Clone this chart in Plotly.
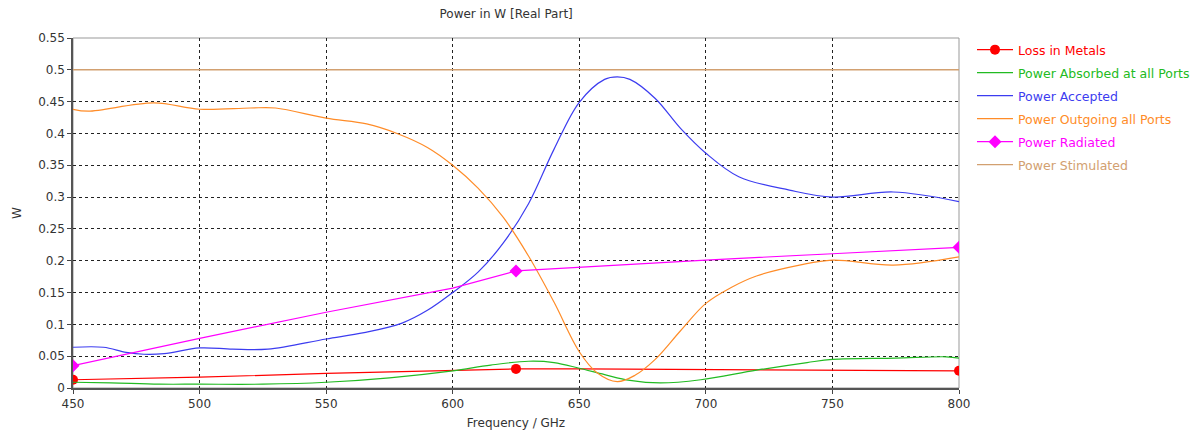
import plotly.graph_objects as go

freq_loss = [450, 500, 550, 600, 625, 650, 700, 750, 800]
loss_metals = [0.013, 0.017, 0.023, 0.027, 0.030, 0.030, 0.029, 0.029, 0.027]
freq_loss_markers = [450, 625, 800]
loss_metals_markers = [0.013, 0.030, 0.027]

freq_abs = [450, 465, 484, 500, 525, 550, 575, 600, 615, 630, 640, 650, 660, 670, 682, 698, 720, 740, 750, 775, 795, 800]
power_absorbed = [0.009, 0.008, 0.006, 0.006, 0.006, 0.009, 0.016, 0.027, 0.036, 0.042, 0.040, 0.031, 0.021, 0.012, 0.008, 0.013, 0.028, 0.040, 0.045, 0.047, 0.049, 0.047]

freq_acc = [450, 462, 471, 478, 486, 500, 513, 527, 550, 565, 580, 590, 600, 610, 620, 630, 640, 650, 660, 665, 670, 680, 690, 700, 713, 733, 750, 774, 800]
power_accepted = [0.064, 0.064, 0.056, 0.053, 0.054, 0.063, 0.061, 0.061, 0.077, 0.087, 0.102, 0.122, 0.150, 0.182, 0.228, 0.290, 0.375, 0.449, 0.485, 0.489, 0.485, 0.455, 0.408, 0.369, 0.332, 0.311, 0.300, 0.308, 0.293]

freq_out = [450, 456, 482, 500, 520, 530, 550, 566, 578, 590, 600, 610, 620, 630, 640, 650, 657, 665, 672, 680, 690, 700, 710, 720, 737, 750, 774, 800]
power_outgoing = [0.438, 0.435, 0.448, 0.438, 0.440, 0.440, 0.424, 0.415, 0.400, 0.378, 0.350, 0.314, 0.268, 0.207, 0.135, 0.057, 0.024, 0.010, 0.020, 0.045, 0.090, 0.133, 0.158, 0.176, 0.193, 0.201, 0.193, 0.206]

freq_rad = [450, 500, 550, 600, 625, 650, 700, 750, 800]
power_radiated = [0.035, 0.078, 0.119, 0.157, 0.184, 0.190, 0.201, 0.211, 0.221]
freq_rad_markers = [450, 625, 800]
power_radiated_markers = [0.035, 0.184, 0.221]

freq_stim = [450, 800]
power_stimulated = [0.5, 0.5]

x_ticks = [450, 500, 550, 600, 650, 700, 750, 800]
y_ticks = [0, 0.05, 0.1, 0.15, 0.2, 0.25, 0.3, 0.35, 0.4, 0.45, 0.5, 0.55]

C_RED = "#FF0000"
C_GREEN = "#22BB22"
C_BLUE = "#3C3CF0"
C_ORANGE = "#FF8C28"
C_MAG = "#FF00FF"
C_TAN = "#D2A070"

FONT = "DejaVu Sans"

def nm(t, c):
    return f"<span style='color:{c}'>{t}</span>"

fig = go.Figure()
fig.add_trace(go.Scatter(x=freq_loss, y=loss_metals, mode="lines", line=dict(color=C_RED, width=1.2),
                         showlegend=False, hoverinfo="skip"))
fig.add_trace(go.Scatter(x=freq_loss_markers, y=loss_metals_markers, mode="markers",
                         marker=dict(color=C_RED, size=10, symbol="circle"), showlegend=False))
fig.add_trace(go.Scatter(x=freq_abs, y=power_absorbed, mode="lines", showlegend=False,
                         line=dict(color=C_GREEN, width=1.2, shape="spline", smoothing=1.0)))
fig.add_trace(go.Scatter(x=freq_acc, y=power_accepted, mode="lines", showlegend=False,
                         line=dict(color=C_BLUE, width=1.2, shape="spline", smoothing=1.0)))
fig.add_trace(go.Scatter(x=freq_out, y=power_outgoing, mode="lines", showlegend=False,
                         line=dict(color=C_ORANGE, width=1.2, shape="spline", smoothing=1.0)))
fig.add_trace(go.Scatter(x=freq_rad, y=power_radiated, mode="lines", line=dict(color=C_MAG, width=1.2),
                         showlegend=False))
fig.add_trace(go.Scatter(x=freq_rad_markers, y=power_radiated_markers, mode="markers",
                         marker=dict(color=C_MAG, size=10, symbol="diamond"), showlegend=False))
fig.add_trace(go.Scatter(x=freq_stim, y=power_stimulated, mode="lines", showlegend=False,
                         line=dict(color=C_TAN, width=1.5)))

legend_items = [
    ("Loss in Metals", C_RED, "circle"),
    ("Power Absorbed at all Ports", C_GREEN, None),
    ("Power Accepted", C_BLUE, None),
    ("Power Outgoing all Ports", C_ORANGE, None),
    ("Power Radiated", C_MAG, "diamond"),
    ("Power Stimulated", C_TAN, None),
]
layout_legends = {}
for i, (label, col, sym) in enumerate(legend_items):
    key = "legend" if i == 0 else f"legend{i+1}"
    if sym:
        tr = go.Scatter(x=[None], y=[None], mode="lines+markers", name=nm(label, col),
                        line=dict(color=col, width=1.2), marker=dict(color=col, size=10, symbol=sym),
                        legend=key, showlegend=True)
    else:
        tr = go.Scatter(x=[None], y=[None], mode="lines", name=nm(label, col),
                        line=dict(color=col, width=1.2), legend=key, showlegend=True)
    fig.add_trace(tr)
    py = 50 + 23 * i
    layout_legends[key] = dict(x=(972 - 73) / 886, xanchor="left", y=(388 - py) / 350, yanchor="middle",
                               font=dict(family=FONT, size=12.5), bgcolor="rgba(0,0,0,0)",
                               borderwidth=0, itemwidth=36)

axis_common = dict(showgrid=True, gridcolor="#222222", griddash="dot", gridwidth=1,
                   zeroline=False, ticks="outside", ticklen=4, tickcolor="#444444",
                   tickfont=dict(family=FONT, size=12, color="#333333"))

fig.update_xaxes(range=[450, 800], tickvals=x_ticks, showline=True, linecolor="#555555", linewidth=1.5,
                 title=dict(text="Frequency / GHz", font=dict(family=FONT, size=12, color="#333333"), standoff=8),
                 **axis_common)
fig.update_yaxes(range=[0, 0.55], tickvals=y_ticks, showline=True, linecolor="#555555", linewidth=1.5,
                 title=dict(text="W", font=dict(family=FONT, size=12, color="#333333"), standoff=14),
                 **axis_common)

fig.update_layout(
    width=1198, height=443,
    margin=dict(l=73, r=239, t=38, b=55, autoexpand=False),
    paper_bgcolor="white", plot_bgcolor="white",
    title=dict(text="Power in W [Real Part]", x=0.4225, xanchor="center", y=0.968, yanchor="middle",
               font=dict(family=FONT, size=12, color="#333333")),
    shapes=[dict(type="rect", xref="paper", yref="paper", x0=0, x1=1, y0=0, y1=1,
                 line=dict(color="#999999", width=1), layer="below")],
    **layout_legends,
)

fig.write_html("out.html")
